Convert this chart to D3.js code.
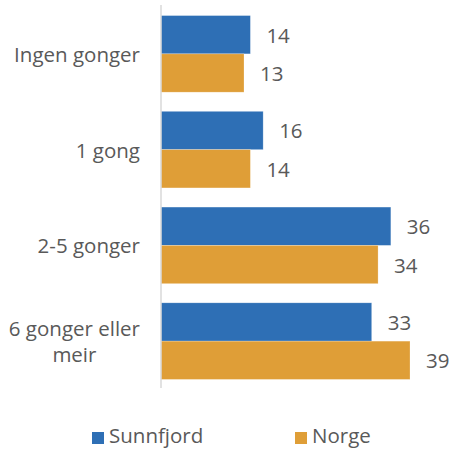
<!DOCTYPE html>
<html>
<head>
<meta charset="utf-8">
<script src="https://cdn.jsdelivr.net/npm/d3@7"></script>
<style>
  body { margin: 0; background: #fff; }
  text { font-family: "Open Sans", sans-serif; fill: #595959; }
</style>
</head>
<body>
<script>
const categories = ["Ingen gonger", "1 gong", "2-5 gonger", "6 gonger eller meir"];
const seriesNames = ["Sunnfjord", "Norge"];
const sunnfjord = [14, 16, 36, 33];
const norge = [13, 14, 34, 39];
const colors = ["#2E6FB5", "#DF9E37"];

const width = 450, height = 449;
const fs = "20.5px";
const svg = d3.select("body").append("svg")
  .attr("width", width)
  .attr("height", height);

const x = d3.scaleLinear().domain([0, 39]).range([161, 410]);
const y = d3.scaleBand().domain(categories).range([6, 389])
  .paddingInner(0.2).paddingOuter(0.1);
const y1 = d3.scaleBand().domain(seriesNames).range([0, y.bandwidth()]);

const rows = categories.map((c, i) => ({ cat: c, vals: [sunnfjord[i], norge[i]] }));

const groups = svg.selectAll("g.grp")
  .data(rows)
  .enter().append("g")
    .attr("class", "grp")
    .attr("transform", d => "translate(0," + y(d.cat) + ")");

groups.selectAll("rect")
  .data(d => d.vals.map((v, j) => ({ name: seriesNames[j], v: v, j: j })))
  .enter().append("rect")
    .attr("x", x(0))
    .attr("y", d => y1(d.name))
    .attr("width", d => x(d.v) - x(0))
    .attr("height", y1.bandwidth())
    .attr("fill", d => colors[d.j])
    .attr("stroke", "#fff")
    .attr("stroke-opacity", 0.4)
    .attr("stroke-width", 0.6);

groups.selectAll("text.val")
  .data(d => d.vals.map((v, j) => ({ name: seriesNames[j], v: v })))
  .enter().append("text")
    .attr("class", "val")
    .attr("x", d => x(d.v) + 16)
    .attr("y", d => y1(d.name) + y1.bandwidth() / 2)
    .attr("dominant-baseline", "central")
    .attr("font-size", fs)
    .text(d => d.v);

// axis line
svg.append("line")
  .attr("x1", x(0)).attr("x2", x(0))
  .attr("y1", 5).attr("y2", 388)
  .attr("stroke", "#d9d9d9")
  .attr("stroke-width", 1.5);

// category labels (wrap long ones into two lines)
const labelRight = 140;
const wraps = { "6 gonger eller meir": ["6 gonger eller", "meir"] };
categories.forEach(c => {
  const lines = wraps[c] || [c];
  const cy = y(c) + y.bandwidth() / 2;
  const lh = 26;
  const t = svg.append("text")
    .attr("font-size", fs)
    .attr("text-anchor", "middle")
    .attr("dominant-baseline", "central");
  lines.forEach((l, k) => {
    t.append("tspan")
      .attr("y", cy + (k - (lines.length - 1) / 2) * lh)
      .text(l);
  });
  let w = 0;
  t.selectAll("tspan").each(function () { w = Math.max(w, this.getComputedTextLength()); });
  t.selectAll("tspan").attr("x", labelRight - w / 2);
});

// legend
const legX = [92, 295];
seriesNames.forEach((s, i) => {
  svg.append("rect")
    .attr("x", legX[i]).attr("y", 432)
    .attr("width", 12).attr("height", 12)
    .attr("fill", colors[i]);
  svg.append("text")
    .attr("x", legX[i] + 17).attr("y", 443)
    .attr("font-size", fs)
    .text(s);
});
</script>
</body>
</html>
